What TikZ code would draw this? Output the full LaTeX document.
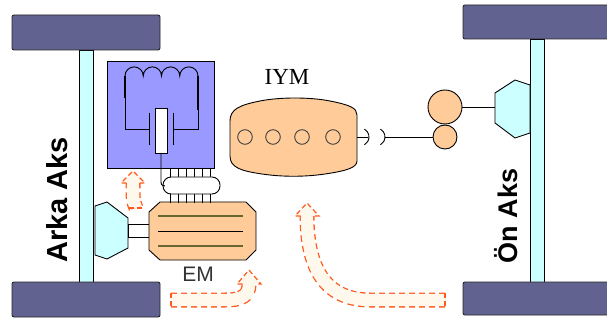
\documentclass[tikz,border=0pt]{standalone}
\usepackage{fontspec}
\setmainfont{Liberation Serif}
\setsansfont{Liberation Sans}
\usetikzlibrary{calc, arrows.meta, positioning}

\definecolor{tekerrenk}{RGB}{98,98,145}
\definecolor{aksrenk}{RGB}{204,255,255}
\definecolor{kuturenk}{RGB}{153,153,255}
\definecolor{motorrenk}{RGB}{255,204,153}
\definecolor{sarim}{RGB}{102,102,51}
\definecolor{akis}{RGB}{255,90,30}
\definecolor{krem}{RGB}{255,248,236}

\begin{document}
\begin{tikzpicture}[x=1pt, y=-1pt, line width=0.9pt,
    teker/.style={fill=tekerrenk, draw=black!85, rounded corners=2pt},
    mil/.style={fill=aksrenk, draw=black},
    kenar/.style={draw=akis, line width=15pt, dash pattern=on 6pt off 4pt},
    ic/.style={draw=krem, line width=12.4pt},
    uc/.style={draw=akis, line width=1.2pt, dash pattern=on 5pt off 3pt}]
    \clip (0,0) rectangle (607,320);

    % arka aks
    \draw[mil] (79,50) rectangle (93,282);
    \draw[teker] (12,15) rectangle (160,50);
    \draw[teker] (12,282) rectangle (160,317);
    \node[rotate=90, font=\sffamily\bfseries\fontsize{29}{29}\selectfont] (arka) at (57,200) {Arka Aks};

    % on aks
    \draw[mil] (530,39) rectangle (544,282);
    \draw[teker] (463,5) rectangle (615,39);
    \draw[teker] (463,282) rectangle (615,315);
    \node[rotate=90, font=\sffamily\bfseries\fontsize{27}{27}\selectfont] (on) at (506,216) {Ön Aks};

    % arka diferansiyel ve mil
    \draw[mil] (95,206) -- (107,202) -- (128,218) -- (128,248) -- (107,259) -- (95,255) -- cycle;
    \draw[fill=white] (128,224) rectangle (150,237);

    % elektrik motoru
    \draw[fill=motorrenk] (160,202) -- (246,202) -- (256,212) -- (256,250) -- (246,260)
        -- (160,260) -- (149,250) -- (149,212) -- cycle;
    \draw[sarim, line width=2.6pt] (158,216) -- (243,216);
    \draw (158,231) -- (243,231);
    \draw[sarim, line width=2.6pt] (158,246) -- (243,246);
    \node[font=\sffamily\fontsize{21}{21}\selectfont, text=black!80] (em) at (198,274) {EM};

    % kavrama
    \foreach \x in {170,178,186,194,202,210} {
        \draw (\x,167) -- (\x,178);
        \draw (\x,193) -- (\x,203);
    }
    \draw[fill=white, rounded corners=8pt] (163,177) rectangle (220,194);

    % kontrol kutusu
    \draw[fill=kuturenk] (107,61) rectangle (214,168);
    \draw (125,76) arc[start angle=180, end angle=360, radius=9.125]
        arc[start angle=180, end angle=360, radius=9.125]
        arc[start angle=180, end angle=360, radius=9.125]
        arc[start angle=180, end angle=360, radius=9.125];
    \draw (125,76) -- (125,129) -- (149,129);
    \draw (198,76) -- (198,129) -- (173,129);
    \draw[line width=2pt] (125,76) -- (125,98);
    \draw[line width=2pt] (198,76) -- (198,110);
    \draw (149,113) -- (149,145);
    \draw (173,113) -- (173,145);
    \draw[fill=white] (155,108) rectangle (167,153);
    \coordinate (rotor) at (161,153);
    \coordinate (kavrama) at (165,186);
    \draw (rotor) -- (161,180) .. controls (161,185) .. (kavrama);

    % icten yanmali motor
    \draw[fill=motorrenk] (230,121) .. controls (230,109) and (240,105) .. (260,101)
        .. controls (280,97) and (310,97) .. (330,101)
        .. controls (350,105) and (357,108) .. (357,115) -- (357,161)
        .. controls (357,168) and (345,171) .. (325,174)
        .. controls (305,177) and (282,177) .. (262,174)
        .. controls (242,171) and (230,168) .. (230,156) -- cycle;
    \foreach \x in {245,273,302,333}
        \draw[draw=black!75, fill=motorrenk] (\x,137) circle (7.3);
    \node[font=\fontsize{23}{23}\selectfont] (iym) at (287,77) {IYM};

    % debriyaj ve aktarma
    \coordinate (krank) at (357,137);
    \coordinate (debriyaj) at (368,137);
    \coordinate (cikis) at (385,137);
    \coordinate (kucuk) at (433,137);
    \coordinate (dis) at (462,107);
    \coordinate (giris) at (495,107);
    \draw (krank) -- (debriyaj);
    \draw (364.5,129.2) arc[start angle=-60, end angle=60, radius=9];
    \draw (380.5,129.2) arc[start angle=-60, end angle=60, radius=9];
    \draw (cikis) -- (kucuk);
    \draw (dis) -- (giris);
    \draw[fill=motorrenk] (445,137) circle (12);
    \draw[fill=motorrenk] (445,107) circle (17);

    % on diferansiyel
    \draw[mil] (495,93) -- (515,80) -- (530,85) -- (530,133) -- (515,138) -- (495,123) -- cycle;

    % enerji akisi
    \draw[kenar] (136,208) .. controls (133,200) .. (133,183);
    \draw[ic] (136,208) .. controls (133,200) .. (133,183);
    \draw[uc] (129,208) -- (143,208);
    \fill[krem] (121,183) -- (133,171) -- (145,183) -- cycle;
    \draw[uc] (126.5,183) -- (121,183) -- (133,171) -- (145,183) -- (139.5,183);

    \draw[kenar] (171,300) -- (225,300) .. controls (243,300) and (249,295) .. (249,284);
    \draw[ic] (171,300) -- (225,300) .. controls (243,300) and (249,295) .. (249,284);
    \draw[uc] (171,292.5) -- (171,307.5);
    \fill[krem] (237,284) -- (249,270) -- (261,284) -- cycle;
    \draw[uc] (242.5,284) -- (237,284) -- (249,270) -- (261,284) -- (255.5,284);

    \draw[kenar] (445,300) -- (370,300) .. controls (320,300) and (307,260) .. (307,216);
    \draw[ic] (445,300) -- (370,300) .. controls (320,300) and (307,260) .. (307,216);
    \draw[uc] (445,292.5) -- (445,307.5);
    \fill[krem] (295,216) -- (307,203) -- (319,216) -- cycle;
    \draw[uc] (300.5,216) -- (295,216) -- (307,203) -- (319,216) -- (313.5,216);
\end{tikzpicture}
\end{document}
